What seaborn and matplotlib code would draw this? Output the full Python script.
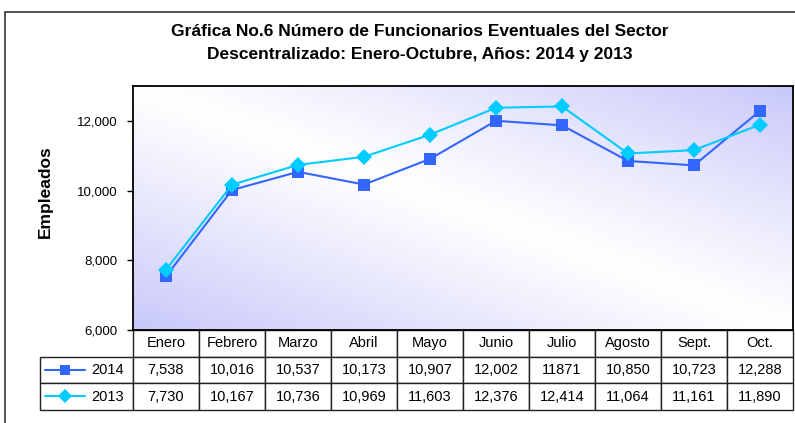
import numpy as np
import pandas as pd
import matplotlib.pyplot as plt
import seaborn as sns
from matplotlib.lines import Line2D
from matplotlib.patches import Rectangle

# datos de la grafica
meses = ['Enero', 'Febrero', 'Marzo', 'Abril', 'Mayo', 'Junio', 'Julio',
         'Agosto', 'Sept.', 'Oct.']
emp_2014 = [7538, 10016, 10537, 10173, 10907, 12002, 11871, 10850, 10723, 12288]
emp_2013 = [7730, 10167, 10736, 10969, 11603, 12376, 12414, 11064, 11161, 11890]
yticks = [6000, 8000, 10000, 12000]

c2014 = '#3366FF'
c2013 = '#00CCFF'

sns.set_style('white')
plt.rcParams['font.family'] = ['Liberation Sans', 'DejaVu Sans']
plt.rcParams['text.color'] = 'black'
plt.rcParams['axes.labelcolor'] = 'black'
plt.rcParams['ytick.color'] = 'black'

df = pd.DataFrame({
    'mes': list(range(len(meses))) * 2,
    'valor': emp_2014 + emp_2013,
    'anio': ['2014'] * len(meses) + ['2013'] * len(meses),
})

W, H = 795, 423
fig = plt.figure(figsize=(W / 100, H / 100), dpi=100)

# marco exterior
fig.patches.append(Rectangle((5 / W, -0.2), 1.2, 1 - 12 / H + 0.2,
                             transform=fig.transFigure, fill=False,
                             edgecolor='#333333', lw=1.2))

ax = fig.add_axes([133 / W, 1 - 330 / H, 660 / W, 244 / H])

# fondo degradado
gx, gy = np.meshgrid(np.linspace(0, 1, 300), np.linspace(0, 1, 150))
u = (gx + gy) / 2
t = np.abs(2 * u - 1) ** 1.1
lav = np.array([200, 200, 250]) / 255
img = (1 - t[..., None]) * np.array([1, 1, 1]) + t[..., None] * lav
ax.imshow(img, extent=[-0.5, 9.5, 6000, 13000], origin='lower',
          aspect='auto', zorder=0)

sns.lineplot(data=df, x='mes', y='valor', hue='anio', style='anio',
             palette={'2014': c2014, '2013': c2013},
             markers={'2014': 's', '2013': 'D'}, dashes=False,
             markersize=8, markeredgewidth=0, linewidth=1.5,
             legend=False, ax=ax, zorder=3)

ax.set_xlim(-0.5, 9.5)
ax.set_ylim(6000, 13000)
ax.set_xticks([])
ax.set_yticks(yticks)
ax.set_yticklabels([f'{v:,}' for v in yticks], fontsize=9.5)
ax.tick_params(axis='y', direction='out', length=4, width=1, left=True,
               color='black', pad=7)
ax.set_xlabel('')
ax.set_ylabel('Empleados', fontsize=12.5, fontweight='bold')
ax.yaxis.set_label_coords((53 - 133) / 660, (330 - 192) / 244)
for s in ax.spines.values():
    s.set_color('black')
    s.set_linewidth(1.3)

# tabla de datos
tabla_2014 = [f'{v:,}' for v in emp_2014]
tabla_2014[6] = '11871'  # asi aparece en la fuente
tabla_2013 = [f'{v:,}' for v in emp_2013]
rlw = 93 / 660
tb = ax.table(cellText=[['2014'] + tabla_2014, ['2013'] + tabla_2013],
              colLabels=[''] + meses,
              colWidths=[rlw] + [0.1] * 10,
              cellLoc='center',
              bbox=[-rlw, -80 / 244, 1 + rlw, 80 / 244])
tb.auto_set_font_size(False)
tb.set_fontsize(10.5)
for (r, c), cell in tb.get_celld().items():
    cell.set_edgecolor('#222222')
    cell.set_linewidth(1)
    cell.set_facecolor('white')
    cell.get_text().set_color('black')
    if c == 0:
        cell.get_text().set_ha('right')
        cell._loc = 'right'
tb[0, 0].visible_edges = ''

# simbolos de la leyenda dentro de la tabla
for py, col, mk, ms in [(370, c2014, 's', 7), (396, c2013, 'D', 7)]:
    fig.add_artist(Line2D([45 / W, 85 / W], [1 - py / H, 1 - py / H],
                          color=col, lw=1.5, transform=fig.transFigure))
    fig.add_artist(Line2D([65 / W], [1 - py / H], color=col, marker=mk,
                          markersize=ms, markeredgewidth=0,
                          transform=fig.transFigure))

fig.text(420 / W, 1 - 31 / H,
         'Gráfica No.6 Número de Funcionarios Eventuales del Sector',
         ha='center', va='center', fontsize=12.5, fontweight='bold')
fig.text(420 / W, 1 - 55 / H,
         'Descentralizado: Enero-Octubre, Años: 2014 y 2013',
         ha='center', va='center', fontsize=12.5, fontweight='bold')

fig.savefig('out.png', dpi=100)
